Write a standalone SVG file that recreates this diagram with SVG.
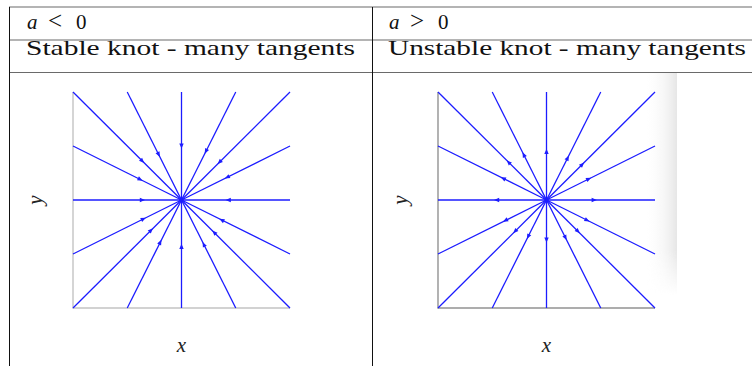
<svg xmlns="http://www.w3.org/2000/svg" xmlns:xlink="http://www.w3.org/1999/xlink" width="752" height="366" viewBox="0 0 752 366">
<style>
.txt{font-family:"Liberation Serif","DejaVu Serif",serif;font-size:21px;fill:#111}
.it{font-style:italic}
.op{font-size:25px}
.lbl{font-family:"Liberation Serif","DejaVu Serif",serif;font-size:21px;font-style:italic;fill:#222}
.rule{stroke:#6a6a6a;stroke-width:1.2;fill:none}
.vrule{stroke:#111;stroke-width:1;fill:none}
.fl{stroke:#1c1cff;stroke-width:1.3;fill:none}
.ah{fill:#1c1cff}
.axL{stroke:#c4c4c4;stroke-width:1.4;fill:none}
.axR{stroke:#939393;stroke-width:1.4;fill:none}
</style>
<defs>
<path id="ah" d="M2.6,0 L-2.6,-2.2 L-2.6,2.2 Z"/>
<linearGradient id="shade" x1="0" y1="0" x2="1" y2="0">
<stop offset="0" stop-color="#ffffff" stop-opacity="0"/>
<stop offset="1" stop-color="#e6e6e6"/>
</linearGradient>
<linearGradient id="fadev" x1="0" y1="0" x2="0" y2="1">
<stop offset="0" stop-color="#fff"/>
<stop offset="0.8" stop-color="#fff"/>
<stop offset="1" stop-color="#fff" stop-opacity="0"/>
</linearGradient>
<mask id="m">
<rect x="640" y="73" width="40" height="222" fill="url(#fadev)"/>
</mask>
</defs>
<rect width="752" height="366" fill="#fff"/>

<rect x="645" y="73" width="32" height="222" fill="url(#shade)" mask="url(#m)"/>

<g id="table">
<line class="rule" x1="9" y1="7" x2="752" y2="7"/>
<line class="rule" x1="9" y1="40" x2="752" y2="40"/>
<line class="rule" x1="9" y1="72.5" x2="752" y2="72.5"/>
<line class="vrule" x1="9.5" y1="7" x2="9.5" y2="366"/>
<line class="vrule" x1="372.5" y1="7" x2="372.5" y2="366"/>
</g>

<g id="header-left">
<text class="txt" y="29"><tspan class="it" x="27">a</tspan><tspan class="op" x="48">&lt;</tspan><tspan x="76">0</tspan></text>
<text class="txt" x="26" y="55" textLength="329" lengthAdjust="spacingAndGlyphs">Stable knot - many tangents</text>
</g>
<g id="header-right">
<text class="txt" y="29"><tspan class="it" x="389">a</tspan><tspan class="op" x="410">&gt;</tspan><tspan x="438">0</tspan></text>
<text class="txt" x="388" y="55" textLength="358" lengthAdjust="spacingAndGlyphs">Unstable knot - many tangents</text>
</g>

<g id="plot-left">
<path class="axL" d="M73,92 V308 H290"/>
<g class="fl">
<line x1="181.5" y1="200" x2="73" y2="92"/>
<line x1="181.5" y1="200" x2="127.25" y2="92"/>
<line x1="181.5" y1="200" x2="181.5" y2="92"/>
<line x1="181.5" y1="200" x2="235.75" y2="92"/>
<line x1="181.5" y1="200" x2="290" y2="92"/>
<line x1="181.5" y1="200" x2="290" y2="146"/>
<line x1="181.5" y1="200" x2="290" y2="200"/>
<line x1="181.5" y1="200" x2="290" y2="254"/>
<line x1="181.5" y1="200" x2="290" y2="308"/>
<line x1="181.5" y1="200" x2="235.75" y2="308"/>
<line x1="181.5" y1="200" x2="181.5" y2="308"/>
<line x1="181.5" y1="200" x2="127.25" y2="308"/>
<line x1="181.5" y1="200" x2="73" y2="308"/>
<line x1="181.5" y1="200" x2="73" y2="254"/>
<line x1="181.5" y1="200" x2="73" y2="200"/>
<line x1="181.5" y1="200" x2="73" y2="146"/>
</g>
<circle cx="181.5" cy="200" r="2.2" class="ah"/>
<g class="ah">
<use xlink:href="#ah" transform="translate(142.4,161.1) rotate(45)"/>
<use xlink:href="#ah" transform="translate(158.7,154.6) rotate(63.3)"/>
<use xlink:href="#ah" transform="translate(181.5,146) rotate(90)"/>
<use xlink:href="#ah" transform="translate(205.9,151.4) rotate(116.7)"/>
<use xlink:href="#ah" transform="translate(219.5,162.2) rotate(135)"/>
<use xlink:href="#ah" transform="translate(227.1,177.3) rotate(153.5)"/>
<use xlink:href="#ah" transform="translate(228.2,200) rotate(180)"/>
<use xlink:href="#ah" transform="translate(221.6,220) rotate(-153.5)"/>
<use xlink:href="#ah" transform="translate(214.1,232.4) rotate(-135)"/>
<use xlink:href="#ah" transform="translate(203.7,244.3) rotate(-116.7)"/>
<use xlink:href="#ah" transform="translate(181.5,246.4) rotate(-90)"/>
<use xlink:href="#ah" transform="translate(160.3,242.1) rotate(-63.3)"/>
<use xlink:href="#ah" transform="translate(151.1,230.2) rotate(-45)"/>
<use xlink:href="#ah" transform="translate(143.5,218.9) rotate(-26.5)"/>
<use xlink:href="#ah" transform="translate(142.4,200) rotate(0)"/>
<use xlink:href="#ah" transform="translate(140.3,179.5) rotate(26.5)"/>
</g>
<text class="lbl" x="42" y="200" text-anchor="middle" transform="rotate(-90 42 200)">y</text>
<text class="lbl" x="181.5" y="352" text-anchor="middle">x</text>
</g>

<g id="plot-right">
<path class="axR" d="M438,92 V308 H655"/>
<g class="fl">
<line x1="546.5" y1="200" x2="438" y2="92"/>
<line x1="546.5" y1="200" x2="492.25" y2="92"/>
<line x1="546.5" y1="200" x2="546.5" y2="92"/>
<line x1="546.5" y1="200" x2="600.75" y2="92"/>
<line x1="546.5" y1="200" x2="655" y2="92"/>
<line x1="546.5" y1="200" x2="655" y2="146"/>
<line x1="546.5" y1="200" x2="655" y2="200"/>
<line x1="546.5" y1="200" x2="655" y2="254"/>
<line x1="546.5" y1="200" x2="655" y2="308"/>
<line x1="546.5" y1="200" x2="600.75" y2="308"/>
<line x1="546.5" y1="200" x2="546.5" y2="308"/>
<line x1="546.5" y1="200" x2="492.25" y2="308"/>
<line x1="546.5" y1="200" x2="438" y2="308"/>
<line x1="546.5" y1="200" x2="438" y2="254"/>
<line x1="546.5" y1="200" x2="438" y2="200"/>
<line x1="546.5" y1="200" x2="438" y2="146"/>
</g>
<circle cx="546.5" cy="200" r="2.2" class="ah"/>
<g class="ah">
<use xlink:href="#ah" transform="translate(508.5,162.2) rotate(-135)"/>
<use xlink:href="#ah" transform="translate(523.7,154.6) rotate(-116.7)"/>
<use xlink:href="#ah" transform="translate(546.5,151.4) rotate(-90)"/>
<use xlink:href="#ah" transform="translate(567.7,157.9) rotate(-63.3)"/>
<use xlink:href="#ah" transform="translate(582.3,164.4) rotate(-45)"/>
<use xlink:href="#ah" transform="translate(588.8,178.9) rotate(-26.5)"/>
<use xlink:href="#ah" transform="translate(594.2,200) rotate(0)"/>
<use xlink:href="#ah" transform="translate(587.2,220.3) rotate(26.5)"/>
<use xlink:href="#ah" transform="translate(578,231.3) rotate(45)"/>
<use xlink:href="#ah" transform="translate(565.5,237.8) rotate(63.3)"/>
<use xlink:href="#ah" transform="translate(546.5,240) rotate(90)"/>
<use xlink:href="#ah" transform="translate(528.1,236.7) rotate(116.7)"/>
<use xlink:href="#ah" transform="translate(515,231.3) rotate(135)"/>
<use xlink:href="#ah" transform="translate(505.3,220.5) rotate(153.5)"/>
<use xlink:href="#ah" transform="translate(496.6,200) rotate(180)"/>
<use xlink:href="#ah" transform="translate(503.1,178.4) rotate(-153.5)"/>
</g>
<text class="lbl" x="407" y="200" text-anchor="middle" transform="rotate(-90 407 200)">y</text>
<text class="lbl" x="546.5" y="352" text-anchor="middle">x</text>
</g>
</svg>
